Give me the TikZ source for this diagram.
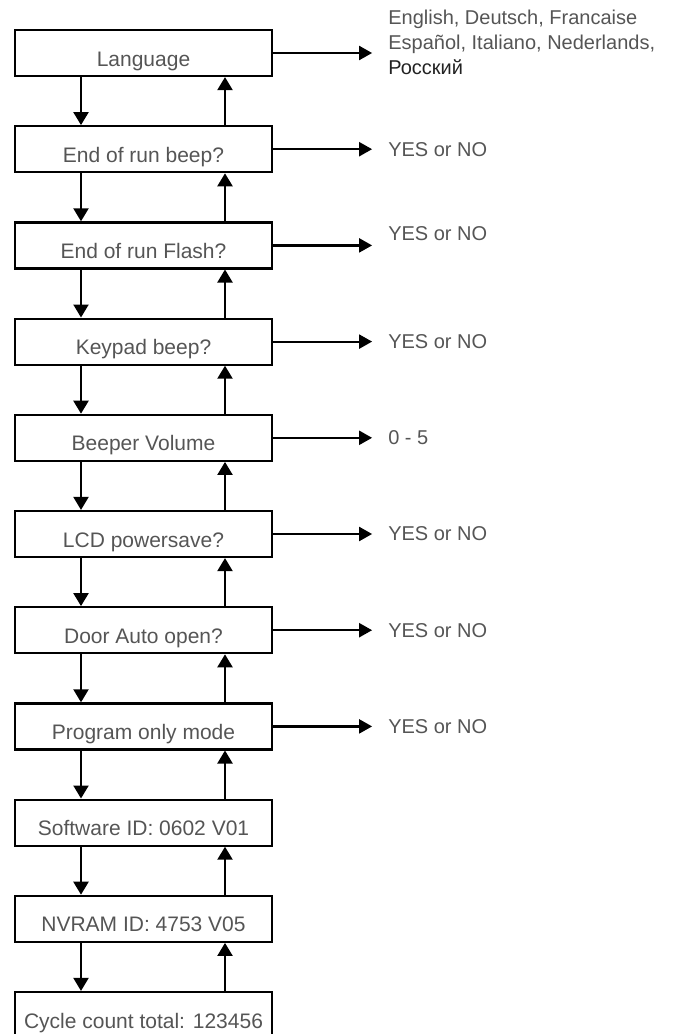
\documentclass[tikz,border=0pt]{standalone}
\usepackage{fontspec}
\setmainfont{Liberation Sans}
\usetikzlibrary{arrows.meta,positioning}
\definecolor{softgray}{HTML}{555555}
\definecolor{deepgray}{HTML}{222222}
\tikzset{
  menu/.style={draw=black,line width=2.2pt,minimum width=257pt,minimum height=46pt,
               inner sep=0pt,text height=26pt,text depth=0pt,text=softgray,
               font=\fontsize{21}{25}\selectfont},
  choice/.style={inner sep=0pt,align=left,text=softgray,
                 font=\fontsize{20}{25}\selectfont},
  nav/.style={-{Triangle[length=13pt,width=15pt]},line width=2.2pt,draw=black},
  pick/.style={-{Triangle[length=13pt,width=14pt]},line width=2.2pt,draw=black,
               shorten >=16pt}
}

\begin{document}
\begin{tikzpicture}[
  node distance=48pt and 115pt
]
  \useasboundingbox (0,0) rectangle (682pt,-1034pt);

  \node[menu] (lang) at (143.5pt,-53pt) {Language};
  \node[menu,below=of lang] (runbeep) {End of run beep?};
  \node[menu,below=of runbeep] (flash) {End of run Flash?};
  \node[menu,below=of flash] (keybeep) {Keypad beep?};
  \node[menu,below=of keybeep] (volume) {Beeper Volume};
  \node[menu,below=of volume] (lcd) {LCD powersave?};
  \node[menu,below=of lcd] (door) {Door Auto open?};
  \node[menu,below=of door] (prog) {Program only mode};
  \node[menu,below=of prog] (soft) {Software ID: 0602 V01};
  \node[menu,below=of soft] (nvram) {NVRAM ID: 4753 V05};
  \node[menu,below=of nvram] (cycle) {Cycle count total: 123456};

  \draw[nav] ([xshift=-62.5pt]lang.south)--([xshift=-62.5pt]runbeep.north);
  \draw[nav] ([xshift=81.5pt]runbeep.north)--([xshift=81.5pt]lang.south);
  \draw[nav] ([xshift=-62.5pt]runbeep.south)--([xshift=-62.5pt]flash.north);
  \draw[nav] ([xshift=81.5pt]flash.north)--([xshift=81.5pt]runbeep.south);
  \draw[nav] ([xshift=-62.5pt]flash.south)--([xshift=-62.5pt]keybeep.north);
  \draw[nav] ([xshift=81.5pt]keybeep.north)--([xshift=81.5pt]flash.south);
  \draw[nav] ([xshift=-62.5pt]keybeep.south)--([xshift=-62.5pt]volume.north);
  \draw[nav] ([xshift=81.5pt]volume.north)--([xshift=81.5pt]keybeep.south);
  \draw[nav] ([xshift=-62.5pt]volume.south)--([xshift=-62.5pt]lcd.north);
  \draw[nav] ([xshift=81.5pt]lcd.north)--([xshift=81.5pt]volume.south);
  \draw[nav] ([xshift=-62.5pt]lcd.south)--([xshift=-62.5pt]door.north);
  \draw[nav] ([xshift=81.5pt]door.north)--([xshift=81.5pt]lcd.south);
  \draw[nav] ([xshift=-62.5pt]door.south)--([xshift=-62.5pt]prog.north);
  \draw[nav] ([xshift=81.5pt]prog.north)--([xshift=81.5pt]door.south);
  \draw[nav] ([xshift=-62.5pt]prog.south)--([xshift=-62.5pt]soft.north);
  \draw[nav] ([xshift=81.5pt]soft.north)--([xshift=81.5pt]prog.south);
  \draw[nav] ([xshift=-62.5pt]soft.south)--([xshift=-62.5pt]nvram.north);
  \draw[nav] ([xshift=81.5pt]nvram.north)--([xshift=81.5pt]soft.south);
  \draw[nav] ([xshift=-62.5pt]nvram.south)--([xshift=-62.5pt]cycle.north);
  \draw[nav] ([xshift=81.5pt]cycle.north)--([xshift=81.5pt]nvram.south);

  \node[choice,right=of lang,yshift=11pt] (langs)
    {English, Deutsch, Francaise\\Español, Italiano, Nederlands,\\\textcolor{deepgray}{Росский}};
  \node[choice,right=of runbeep] (runbeepval) {YES or NO};
  \node[choice,right=of flash,yshift=12pt] (flashval) {YES or NO};
  \node[choice,right=of keybeep] (keybeepval) {YES or NO};
  \node[choice,right=of volume] (volumeval) {0 - 5};
  \node[choice,right=of lcd] (lcdval) {YES or NO};
  \node[choice,right=of door] (doorval) {YES or NO};
  \node[choice,right=of prog] (progval) {YES or NO};

  \draw[pick] (lang.east)--(lang.east-|langs.west);
  \draw[pick] (runbeep.east)--(runbeep.east-|runbeepval.west);
  \draw[pick] (flash.east)--(flash.east-|flashval.west);
  \draw[pick] (keybeep.east)--(keybeep.east-|keybeepval.west);
  \draw[pick] (volume.east)--(volume.east-|volumeval.west);
  \draw[pick] (lcd.east)--(lcd.east-|lcdval.west);
  \draw[pick] (door.east)--(door.east-|doorval.west);
  \draw[pick] (prog.east)--(prog.east-|progval.west);
\end{tikzpicture}
\end{document}
